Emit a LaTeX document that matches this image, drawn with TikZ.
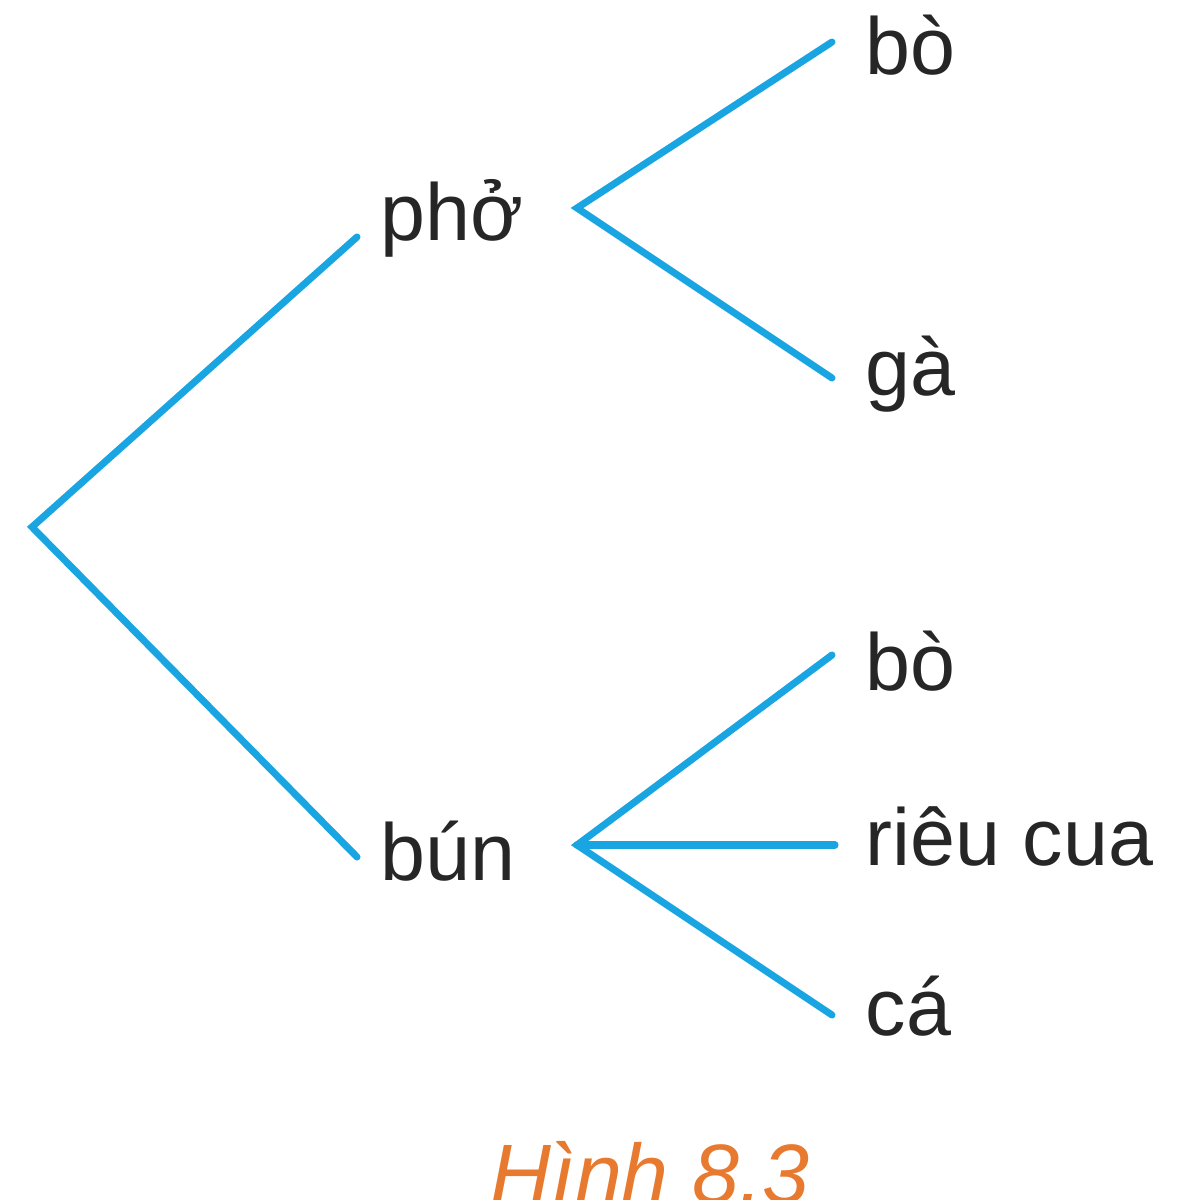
\documentclass[tikz,border=0pt]{standalone}
\usepackage{fontspec}
\setmainfont{Liberation Sans}
\usetikzlibrary{positioning}
\definecolor{treeblue}{RGB}{25,165,225}
\definecolor{hinhorange}{RGB}{232,122,48}
\tikzset{
  branch/.style={draw=treeblue,line width=2pt,line cap=round},
  food/.style={inner sep=0pt,anchor=base west,text=black!85,font=\fontsize{23}{28}\selectfont},
  hinh/.style={inner sep=0pt,anchor=base west,text=hinhorange,font=\fontsize{24}{29}\selectfont\itshape}
}
\begin{document}
\begin{tikzpicture}[x=0.1mm,y=-0.1mm]
\clip (0,0) rectangle (1186,1200);
\coordinate (root) at (32,527);
\coordinate (phoin) at (357,237);
\coordinate (bunin) at (357,857);
\coordinate (phofork) at (577,208);
\coordinate (bunfork) at (577,845);
\coordinate (bo1in) at (832,42);
\coordinate (gain) at (832,378);
\coordinate (bo2in) at (832,655);
\coordinate (riEuin) at (835,845);
\coordinate (cain) at (832,1015);
\node[food] (pho) at (380,240) {phở};
\node[food] (bun) at (380,880) {bún};
\node[food] (bo1) at (865,75) {bò};
\node[food] (ga) at (865,395) {gà};
\node[food] (bo2) at (865,690) {bò};
\node[food] (rieucua) at (865,865) {riêu cua};
\node[food] (ca) at (865,1035) {cá};
\node[hinh] (hinh) at (490,1203) {Hình 8.3};
\draw[branch] (phoin) -- (root) -- (bunin);
\draw[branch] (bo1in) -- (phofork) -- (gain);
\draw[branch] (bo2in) -- (bunfork) -- (cain);
\draw[branch] (bunfork) -- (riEuin);
\end{tikzpicture}
\end{document}
